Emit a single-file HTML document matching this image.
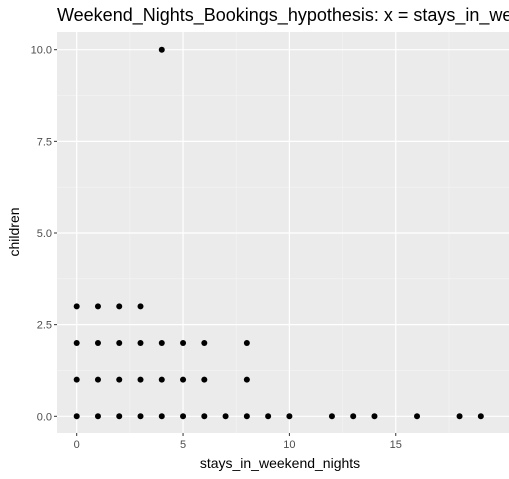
<!DOCTYPE html>
<html><head><meta charset="utf-8"><style>
body{margin:0;background:#fff;}
svg{display:block;font-family:"Liberation Sans",sans-serif;}
</style></head><body>
<svg id="chart" width="509" height="479">
<rect x="0" y="0" width="509" height="479" fill="#fff"/>
<text x="57" y="21" font-size="18" fill="#000">Weekend_Nights_Bookings_hypothesis: x = stays_in_weekend_nights</text>
<rect x="57" y="32" width="460" height="401" fill="#ebebeb"/>
<g id="grid"></g>
<g id="pts"></g>
<g id="axes"></g>
<text x="280" y="468" font-size="14" text-anchor="middle" fill="#000">stays_in_weekend_nights</text>
<text transform="translate(19,232) rotate(-90)" font-size="14" text-anchor="middle" fill="#000">children</text>
</svg>
<script>
const xVals=[0,0,0,0,1,1,1,1,2,2,2,2,3,3,3,3,4,4,4,4,5,5,5,6,6,6,7,8,8,8,9,10,12,13,14,16,18,19];
const yVals=[0,1,2,3,0,1,2,3,0,1,2,3,0,1,2,3,0,1,2,10,0,1,2,0,1,2,0,0,1,2,0,0,0,0,0,0,0,0];
const xTicks=[0,5,10,15];
const yTicks=[0,2.5,5,7.5,10];
const yTickLabels=["0.0","2.5","5.0","7.5","10.0"];
const NS="http://www.w3.org/2000/svg";
const xs=v=>76.7+v*21.27;
const ys=v=>416.3-v*36.66;
const px0=57,px1=509,py0=32,py1=433;
function mk(t,a,p){const e=document.createElementNS(NS,t);for(const k in a)e.setAttribute(k,a[k]);p.appendChild(e);return e;}
const grid=document.getElementById('grid'),axes=document.getElementById('axes'),pts=document.getElementById('pts');
// minor gridlines
for(let i=0;i<xTicks.length;i++){const m=xTicks[i]+2.5;const gl=mk('line',{x1:xs(m),x2:xs(m),y1:py0,y2:py1,stroke:'#f5f5f5','stroke-width':0.6},grid);

}
for(let i=0;i<yTicks.length-1;i++){const m=yTicks[i]+1.25;const gl=mk('line',{x1:px0,x2:px1,y1:ys(m),y2:ys(m),stroke:'#f5f5f5','stroke-width':0.6},grid);

}
xTicks.forEach(t=>{const gl=mk('line',{x1:xs(t),x2:xs(t),y1:py0,y2:py1,stroke:'#fff','stroke-width':1.2},grid);


const tk=mk('line',{x1:xs(t),x2:xs(t),y1:py1,y2:py1+3,stroke:'#333','stroke-width':1},axes);


const tx=mk('text',{x:xs(t),y:py1+15,'font-size':11,'text-anchor':'middle',fill:'#4d4d4d'},axes);tx.textContent=t;

});
yTicks.forEach((t,i)=>{const gl=mk('line',{x1:px0,x2:px1,y1:ys(t),y2:ys(t),stroke:'#fff','stroke-width':1.2},grid);


const tk=mk('line',{x1:px0-3,x2:px0,y1:ys(t),y2:ys(t),stroke:'#333','stroke-width':1},axes);


const tx=mk('text',{x:px0-5,y:ys(t)+4,'font-size':11,'text-anchor':'end',fill:'#4d4d4d'},axes);tx.textContent=yTickLabels[i];

});
for(let i=0;i<xVals.length;i++){const c=mk('circle',{cx:xs(xVals[i]),cy:ys(yVals[i]),r:3,fill:'#000'},pts);

}
</script>
</body></html>
